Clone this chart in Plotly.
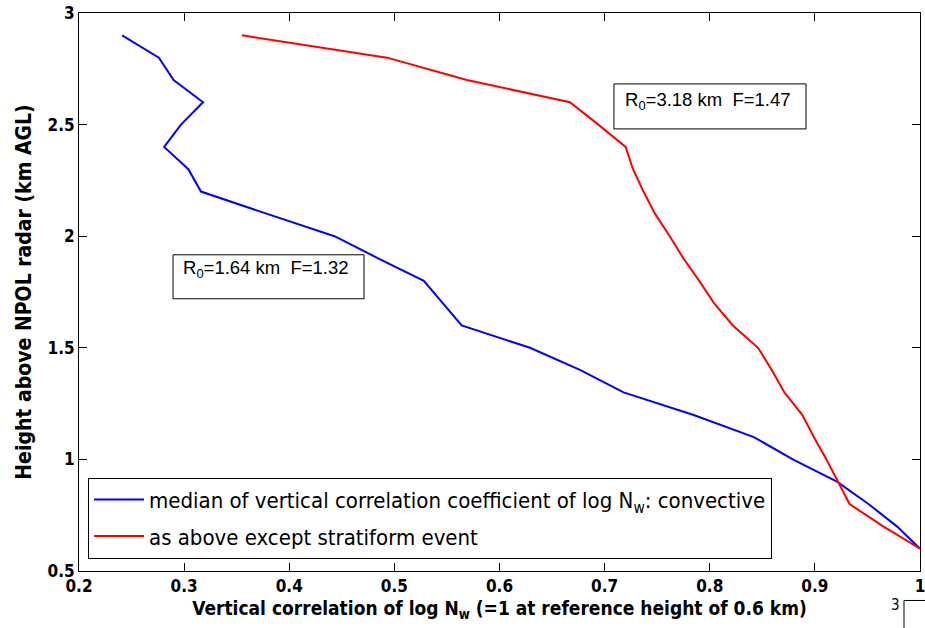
import plotly.graph_objects as go

# Height levels (km AGL) and median vertical correlation of log Nw
conv_height = [2.9, 2.8, 2.7, 2.6, 2.5, 2.4, 2.3, 2.2, 2.1, 2.0, 1.9, 1.8, 1.7, 1.6,
               1.5, 1.4, 1.3, 1.2, 1.1, 1.0, 0.9, 0.8, 0.7, 0.6]
conv_corr = [0.241, 0.276, 0.290, 0.318, 0.297, 0.281, 0.304, 0.316, 0.379, 0.443,
             0.485, 0.528, 0.546, 0.564, 0.629, 0.677, 0.718, 0.784, 0.842, 0.879,
             0.921, 0.951, 0.978, 1.0]

strat_height = [2.9, 2.8, 2.7, 2.6, 2.5, 2.4, 2.3, 2.2, 2.1, 2.0, 1.9, 1.8, 1.7, 1.6,
                1.5, 1.4, 1.3, 1.2, 1.1, 1.0, 0.9, 0.8, 0.7, 0.6]
strat_corr = [0.355, 0.493, 0.569, 0.667, 0.694, 0.720, 0.727, 0.737, 0.748, 0.762,
              0.775, 0.790, 0.804, 0.822, 0.846, 0.859, 0.871, 0.888, 0.899, 0.911,
              0.922, 0.933, 0.965, 1.0]

x_ticks = [0.2, 0.3, 0.4, 0.5, 0.6, 0.7, 0.8, 0.9, 1.0]
x_tick_text = ["0.2", "0.3", "0.4", "0.5", "0.6", "0.7", "0.8", "0.9", "1"]
y_ticks = [0.5, 1.0, 1.5, 2.0, 2.5, 3.0]
y_tick_text = ["0.5", "1", "1.5", "2", "2.5", "3"]

NARROW = "DejaVu Sans Condensed, Liberation Sans Narrow, Arial Narrow, sans-serif"
PLAIN = "Liberation Sans, Arial, sans-serif"

fig = go.Figure()
fig.add_trace(go.Scatter(
    x=conv_corr, y=conv_height, mode="lines",
    line=dict(color="#0000ff", width=2),
    name="median of vertical correlation coefficient of log N<sub>w</sub>: convective",
    legendgroup="a",
))
fig.add_trace(go.Scatter(
    x=strat_corr, y=strat_height, mode="lines",
    line=dict(color="#ff0000", width=2),
    name="as above except stratiform event",
    legendgroup="b",
))

axis_common = dict(
    showline=True, linecolor="black", linewidth=1, mirror="ticks",
    ticks="inside", ticklen=8, tickcolor="black", tickwidth=1,
    showgrid=False, zeroline=False, automargin=False,
    ticklabeloverflow="allow",
    tickfont=dict(family=NARROW, size=17, color="black", weight="bold"),
)

fig.update_layout(
    width=925, height=628,
    margin=dict(l=79, r=5, t=13, b=57, autoexpand=False),
    paper_bgcolor="white", plot_bgcolor="white",
    showlegend=True,
    legend=dict(
        x=0.0107, y=0.1674, xanchor="left", yanchor="top",
        bordercolor="black", borderwidth=1, bgcolor="white",
        font=dict(family=NARROW, size=22, color="black"),
        tracegroupgap=5, itemwidth=50,
    ),
    xaxis=dict(range=[0.2, 1.0], tickvals=x_ticks, ticktext=x_tick_text,
               title=dict(text="Vertical correlation of log N<sub>w</sub> (=1 at reference height of 0.6 km)",
                          font=dict(family=NARROW, size=19, color="black", weight="bold"),
                          standoff=6),
               **axis_common),
    yaxis=dict(range=[0.5, 3.0], tickvals=y_ticks, ticktext=y_tick_text,
               title=dict(text="Height above NPOL radar (km AGL)",
                          font=dict(family=NARROW, size=21, color="black", weight="bold"),
                          standoff=10),
               **axis_common),
)

# Fit-parameter boxes
boxes = [
    dict(x0=0.6361, x1=0.8645, y0=0.7923, y1=0.8729, tx=0.6469, ty=0.8424,
         text="R<sub>0</sub>=3.18 km&nbsp;&nbsp;F=1.47"),
    dict(x0=0.1118, x1=0.3389, y0=0.4879, y1=0.5667, tx=0.1213, ty=0.5416,
         text="R<sub>0</sub>=1.64 km&nbsp;&nbsp;F=1.32"),
]
for b in boxes:
    fig.add_shape(type="rect", xref="paper", yref="paper",
                  x0=b["x0"], x1=b["x1"], y0=b["y0"], y1=b["y1"],
                  line=dict(color="black", width=1), fillcolor="rgba(0,0,0,0)")
    fig.add_annotation(xref="paper", yref="paper", x=b["tx"], y=b["ty"],
                       xanchor="left", yanchor="middle", showarrow=False,
                       text=b["text"], font=dict(family=PLAIN, size=18.5, color="black"))

# Corner of the next panel below
fig.add_shape(type="line", xref="paper", yref="paper",
              x0=(904 - 79) / 841, x1=(925 - 79) / 841,
              y0=(571.5 - 601) / 558.5, y1=(571.5 - 601) / 558.5,
              line=dict(color="black", width=1))
fig.add_shape(type="line", xref="paper", yref="paper",
              x0=(904 - 79) / 841, x1=(904 - 79) / 841,
              y0=(571.5 - 601) / 558.5, y1=(571.5 - 630) / 558.5,
              line=dict(color="black", width=1))
fig.add_annotation(xref="paper", yref="paper", x=(902 - 79) / 841, y=(571.5 - 606) / 558.5,
                   xanchor="right", yanchor="middle", showarrow=False, text="3",
                   font=dict(family=NARROW, size=15, color="black"))

fig.write_html("out.html")
